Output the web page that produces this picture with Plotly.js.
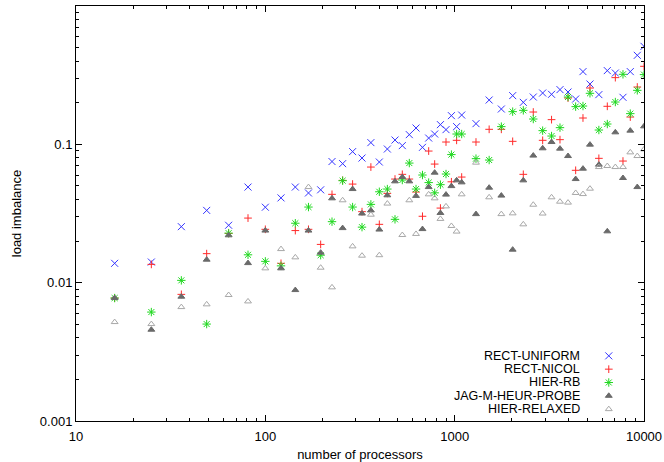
<!DOCTYPE html>
<html>
<head>
<meta charset="utf-8">
<script src="https://cdn.plot.ly/plotly-3.0.1.min.js"></script>
<style>
  html, body { margin: 0; padding: 0; background: #fff; }
  #chart { width: 664px; height: 462px; }
</style>
</head>
<body>
<div id="chart"></div>
<script>
const processors = [16, 25, 36, 49, 64, 81, 100, 121, 144, 169, 196, 225, 256, 289, 324, 361, 400, 441, 484, 529,
  576, 625, 676, 729, 784, 841, 900, 961, 1024, 1089, 1296, 1521, 1764, 2025, 2304, 2601, 2916, 3249, 3600, 3969,
  4356, 4761, 5184, 5776, 6400, 7056, 7744, 8464, 9216, 10000];

const rectUniform = [0.0138, 0.0141, 0.0254, 0.0333, 0.0260, 0.0491, 0.0351, 0.0410, 0.0491, 0.0445,
  0.0469, 0.0751, 0.0725, 0.0886, 0.0796, 0.1029, 0.0745, 0.0925, 0.1074, 0.0979,
  0.1175, 0.1312, 0.0951, 0.111, 0.1187, 0.1388, 0.1277, 0.1612, 0.1343, 0.1628,
  0.1411, 0.2091, 0.180, 0.2249, 0.2012, 0.2198, 0.2349, 0.2299, 0.2486, 0.2389,
  0.2126, 0.3355, 0.2729, 0.2288, 0.3411, 0.3277, 0.2187, 0.3355, 0.440, 0.511];

const rectNicol = [0.00774, 0.01356, 0.00823, 0.01621, 0.0227, 0.0293, 0.0243, 0.0138, 0.0238, 0.0243,
  0.0189, 0.0435, 0.0549, 0.0516, 0.0326, 0.0685, 0.0264, 0.0442, 0.0561, 0.0607,
  0.0561, 0.0452, 0.0302, 0.0894, 0.0720, 0.0346, 0.1039, 0.0536, 0.1069, 0.0580,
  0.1039, 0.1284, 0.1284, 0.1051, 0.0607, 0.1712, 0.1069, 0.1508, 0.1081, 0.2161,
  0.0649, 0.155, 0.2553, 0.0792, 0.1883, 0.3035, 0.0757, 0.1575, 0.2596, 0.3664];

const hierRb = [0.00774, 0.00613, 0.01039, 0.00502, 0.0228, 0.0159, 0.01426, 0.01323, 0.0269, 0.0352,
  0.0158, 0.0276, 0.0546, 0.0352, 0.0252, 0.0368, 0.0454, 0.0475, 0.0287, 0.0552,
  0.0732, 0.0475, 0.0600, 0.0529, 0.0446, 0.0511, 0.0610, 0.0843, 0.1187, 0.1187,
  0.0788, 0.0770, 0.1343, 0.1723, 0.1761, 0.1524, 0.1256, 0.1148, 0.132, 0.2198,
  0.1873, 0.1892, 0.2338, 0.1269, 0.1402, 0.2022, 0.3207, 0.1667, 0.2457, 0.3192];

const jagProbe = [0.00774, 0.00457, 0.00792, 0.01466, 0.0220, 0.01385, 0.0238, 0.01269, 0.00884, 0.0238,
  0.01648, 0.0407, 0.0248, 0.0475, 0.0316, 0.0333, 0.0242, 0.0428, 0.0540, 0.0580,
  0.0540, 0.0424, 0.0244, 0.0491, 0.0624, 0.0319, 0.0433, 0.0499, 0.0549, 0.0531,
  0.0313, 0.0486, 0.0426, 0.01732, 0.0549, 0.0829, 0.0936, 0.1039, 0.0931, 0.0823,
  0.0561, 0.0667, 0.0995, 0.0713, 0.0235, 0.1221, 0.0571, 0.1256, 0.0491, 0.1349];

const hierRelaxed = [0.00519, 0.00502, 0.00666, 0.00697, 0.00814, 0.00732, 0.01269, 0.01749, 0.01524, 0.0491,
  0.01283, 0.00925, 0.0394, 0.0183, 0.01567, 0.0310, 0.0158, 0.0373, null, 0.0221,
  0.0394, 0.0225, null, 0.0435, 0.0407, 0.0289, 0.0356, 0.0257, 0.0234, 0.0435,
  0.0737, 0.0414, 0.0313, 0.0317, 0.0264, 0.0366, 0.0316, 0.0414, 0.0385, 0.0379,
  0.0445, 0.0437, 0.0478, 0.0685, 0.0697, 0.0685, 0.0685, 0.0875, 0.0823, 0.0920];

const xTicks = [10, 100, 1000, 10000];
const xTickText = ["10", "100", "1000", "10000"];
const yTicks = [0.001, 0.01, 0.1, 1];
const yTickText = ["0.001", "0.01", "0.1", "1"];

const seriesNames = ["RECT-UNIFORM", "RECT-NICOL", "HIER-RB", "JAG-M-HEUR-PROBE", "HIER-RELAXED"];
const seriesValues = [rectUniform, rectNicol, hierRb, jagProbe, hierRelaxed];
const styles = [
  { symbol: "x-thin-open", color: "#3535ff", size: 7 },
  { symbol: "cross-thin-open", color: "#ff2a2a", size: 5.5 },
  { symbol: "asterisk-open", color: "#1fd81f", size: 7 },
  { symbol: "triangle-up", color: "#6a6a6a", size: 6 },
  { symbol: "triangle-up-open", color: "#a8a8a8", size: 6 }
];

// key placement (gnuplot style: label right-aligned, sample to its right)
const keyTextX = 0.891, keySymX = 0.938, keyTopY = 0.157, keyStep = 0.0321;

const font = { family: "Liberation Sans, Arial, Helvetica, sans-serif", size: 13, color: "#000" };
const keyFont = { ...font, size: 12.5 };

const traces = seriesValues.map((vals, i) => ({
  x: processors, y: vals, type: "scatter", mode: "markers", name: seriesNames[i],
  marker: { symbol: styles[i].symbol, size: styles[i].size, color: styles[i].color,
            line: { color: styles[i].color, width: 1 } },
  hoverinfo: "x+y+name"
}));

const keyTraces = seriesNames.map((name, i) => ({
  x: [keySymX], y: [keyTopY - i * keyStep], xaxis: "x2", yaxis: "y2",
  type: "scatter", mode: "markers", showlegend: false, hoverinfo: "skip",
  marker: { symbol: styles[i].symbol, size: styles[i].size, color: styles[i].color,
            line: { color: styles[i].color, width: 1 } }
}));

const annotations = seriesNames.map((name, i) => ({
  text: name, xref: "paper", yref: "paper", x: keyTextX, y: keyTopY - i * keyStep,
  xanchor: "right", yanchor: "middle", showarrow: false, font: keyFont
}));

const axisCommon = {
  type: "log", showline: true, linecolor: "#000", linewidth: 1, mirror: "allticks",
  ticks: "inside", ticklen: 6, tickwidth: 1, tickcolor: "#000",
  showgrid: false, zeroline: false, tickfont: font,
  minor: { ticks: "inside", ticklen: 3, tickwidth: 1, tickcolor: "#000", dtick: "D1", showgrid: false }
};

const layout = {
  width: 664, height: 462,
  margin: { l: 76, r: 20, t: 6, b: 41 },
  paper_bgcolor: "#fff", plot_bgcolor: "#fff",
  font, showlegend: false,
  xaxis: { ...axisCommon, range: [1, 4], tickmode: "array", tickvals: xTicks, ticktext: xTickText,
           ticklabelstandoff: 3, title: { text: "number of processors", font, standoff: 9 } },
  yaxis: { ...axisCommon, range: [-3, 0], tickmode: "array", tickvals: yTicks, ticktext: yTickText,
           title: { text: "load imbalance", font, standoff: 15 } },
  xaxis2: { overlaying: "x", range: [0, 1], visible: false, fixedrange: true },
  yaxis2: { overlaying: "y", range: [0, 1], visible: false, fixedrange: true },
  annotations
};

Plotly.newPlot("chart", [...traces, ...keyTraces], layout, { displayModeBar: false, staticPlot: true });
</script>
</body>
</html>
